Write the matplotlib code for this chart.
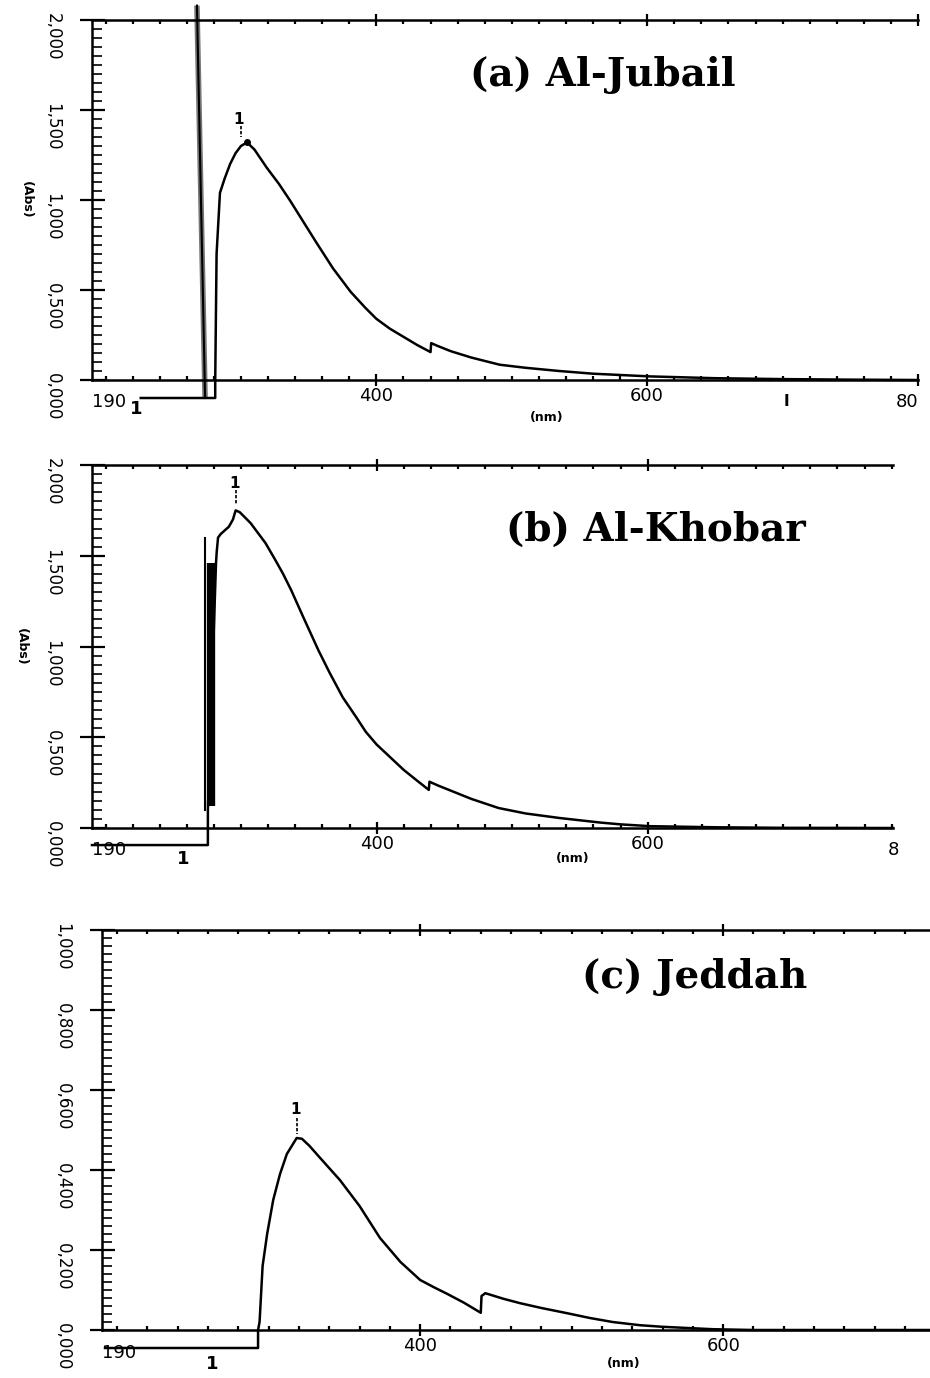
import matplotlib
matplotlib.use('Agg')
import matplotlib.pyplot as plt
from matplotlib.ticker import MultipleLocator, FixedLocator

# panel (a) Al-Jubail: main trace (starts with the off-scale step below the axis)
wl_a = [226, 281, 281, 282, 284.5, 288, 292, 296, 300, 304.5, 310, 319, 328, 336, 346, 356,
        368, 381, 392, 400, 410, 420, 430, 440, 440.5, 445, 455, 470, 491, 510, 535, 560,
        602, 650, 700, 750, 800]
abs_a = [-0.1, -0.1, 0.0, 0.70, 1.04, 1.12, 1.20, 1.26, 1.30, 1.32, 1.28, 1.18, 1.09, 1.0,
         0.88, 0.76, 0.62, 0.49, 0.40, 0.34, 0.285, 0.24, 0.195, 0.155, 0.205, 0.19, 0.16,
         0.125, 0.085, 0.068, 0.05, 0.035, 0.02, 0.01, 0.005, 0.002, 0.0]
spike_wl_a = [267.5, 273.5]
spike_abs_a = [2.08, -0.1]

# panel (b) Al-Khobar
wl_b = [190, 275.5, 275.5, 281.5, 282, 283, 285, 288, 291, 294, 296, 299, 303, 307, 312,
        318, 325, 331, 337, 346, 357, 365, 375, 385, 392, 400, 410, 420, 430, 438.5, 439,
        445, 455, 470, 490, 510, 535, 565, 580, 602, 650, 700, 781]
abs_b = [-0.094, -0.094, 0.1, 1.46, 1.52, 1.60, 1.62, 1.64, 1.66, 1.70, 1.75, 1.74, 1.71,
         1.68, 1.63, 1.57, 1.48, 1.40, 1.31, 1.16, 0.98, 0.86, 0.72, 0.61, 0.53, 0.46, 0.39,
         0.32, 0.26, 0.21, 0.255, 0.235, 0.205, 0.16, 0.11, 0.08, 0.055, 0.03, 0.02, 0.01,
         0.004, 0.001, 0.0]
spike_wl_b = [273.2, 273.2]
spike_abs_b = [1.60, 0.1]
band_wl_b = [277.8, 277.8]
band_abs_b = [0.12, 1.46]

# panel (c) Jeddah
wl_c = [192, 293, 293, 294, 296, 299, 303, 307.5, 312, 318.5, 322, 327, 334, 347, 360,
        373.5, 387, 400, 409, 418, 429, 440, 440.5, 443, 455, 466, 480, 497, 512, 527, 545,
        560, 593, 620, 736.5]
abs_c = [-0.045, -0.045, 0, 0.02, 0.16, 0.24, 0.325, 0.39, 0.44, 0.48, 0.478, 0.46, 0.43,
         0.375, 0.31, 0.23, 0.17, 0.125, 0.107, 0.09, 0.068, 0.043, 0.085, 0.092, 0.078,
         0.067, 0.055, 0.042, 0.03, 0.02, 0.012, 0.008, 0.002, 0.0, 0.0]

titles = ['(a) Al-Jubail', '(b) Al-Khobar', '(c) Jeddah']
yticks_ab = [0, 0.5, 1.0, 1.5, 2.0]
yticks_c = [0, 0.2, 0.4, 0.6, 0.8, 1.0]
xticks_a = [400, 600, 800]
xticks = [400, 600]

W, H = 930, 1378


def box(left, top, right, bottom):
    return [left / W, 1 - bottom / H, (right - left) / W, (bottom - top) / H]


def style(ax, xmax, ymax, yt, yminor, xt):
    ax.set_xlim(190, xmax)
    ax.set_ylim(0, ymax)
    ax.spines['right'].set_visible(False)
    for s in ['left', 'bottom', 'top']:
        ax.spines[s].set_linewidth(1.8)
    ax.xaxis.set_major_locator(FixedLocator(xt))
    ax.xaxis.set_minor_locator(MultipleLocator(20))
    # the last label on the right edge is cut in the scan, only its first digits show
    ax.set_xticklabels([str(t) if t < 700 else '' for t in xt])
    ax.set_yticks(yt)
    ax.set_yticklabels([('%.3f' % v).replace('.', ',') for v in yt])
    ax.yaxis.set_minor_locator(MultipleLocator(yminor))
    ax.tick_params(axis='x', which='major', direction='inout', length=8, width=1.6,
                   top=True, pad=1, labelsize=13)
    ax.tick_params(axis='x', which='minor', direction='in', length=3, width=1.6, top=True)
    ax.tick_params(axis='y', which='major', direction='inout', length=18, width=1.6,
                   labelrotation=270, pad=13, labelsize=12)
    ax.tick_params(axis='y', which='minor', direction='in', length=7, width=1.2)
    ax.text(190, -0.035 * ymax, '190', ha='left', va='top', fontsize=13,
            transform=ax.transData)


fig = plt.figure(figsize=(W / 100, H / 100), dpi=100)

# ---- (a)
ax1 = fig.add_axes(box(92, 20, 918, 380))
style(ax1, 800, 2.0, yticks_ab, 0.05, xticks_a)
ax1.text(800, -0.035 * 2.0, '80', ha='right', va='top', fontsize=13)
ax1.plot(spike_wl_a, spike_abs_a, color='#777777', lw=4, clip_on=False, solid_capstyle='butt')
ax1.plot(spike_wl_a, spike_abs_a, color='black', lw=1.5, clip_on=False)
ax1.plot(wl_a, abs_a, color='black', lw=1.8, clip_on=False)
ax1.plot([304.5], [1.32], 'o', color='black', ms=4)
ax1.text(298, 1.45, '1', ha='center', va='center', fontsize=11, fontweight='bold')
ax1.plot([300, 300], [1.41, 1.35], color='black', lw=1.2, ls=(0, (2, 1)))
ax1.text(223, -0.16, '1', ha='center', va='center', fontsize=13, fontweight='bold')
ax1.text(703, -0.12, 'I', ha='center', va='center', fontsize=11, fontweight='bold')
ax1.text(0.55, -0.105, '(nm)', transform=ax1.transAxes, ha='center', va='center',
         fontsize=9, fontweight='bold')
ax1.text(-0.08, 0.5, '(Abs)', transform=ax1.transAxes, ha='center', va='center',
         fontsize=9, fontweight='bold', rotation=270)

# ---- (b)
ax2 = fig.add_axes(box(92, 465, 893, 828))
style(ax2, 781, 2.0, yticks_ab, 0.05, xticks)
ax2.plot(spike_wl_b, spike_abs_b, color='black', lw=1.5, clip_on=False)
ax2.plot(band_wl_b, band_abs_b, color='black', lw=6, solid_capstyle='butt')
ax2.plot(wl_b, abs_b, color='black', lw=1.8, clip_on=False)
ax2.text(295.5, 1.90, '1', ha='center', va='center', fontsize=11, fontweight='bold')
ax2.plot([296.5, 296.5], [1.86, 1.78], color='black', lw=1.2, ls=(0, (2, 1)))
ax2.text(257, -0.17, '1', ha='center', va='center', fontsize=13, fontweight='bold')
ax2.text(781, -0.035 * 2.0, '8', ha='center', va='top', fontsize=13)
ax2.text(0.6, -0.085, '(nm)', transform=ax2.transAxes, ha='center', va='center',
         fontsize=9, fontweight='bold')
ax2.text(-0.088, 0.5, '(Abs)', transform=ax2.transAxes, ha='center', va='center',
         fontsize=9, fontweight='bold', rotation=270)

# ---- (c)
ax3 = fig.add_axes(box(102, 930, 930, 1330))
style(ax3, 736.5, 1.0, yticks_c, 0.02, xticks)
ax3.plot(wl_c, abs_c, color='black', lw=1.8, clip_on=False)
ax3.text(318, 0.55, '1', ha='center', va='center', fontsize=11, fontweight='bold')
ax3.plot([319, 319], [0.53, 0.49], color='black', lw=1.2, ls=(0, (2, 1)))
ax3.text(263, -0.085, '1', ha='center', va='center', fontsize=13, fontweight='bold')
ax3.text(0.63, -0.085, '(nm)', transform=ax3.transAxes, ha='center', va='center',
         fontsize=9, fontweight='bold')

# titles
for t, (cx, cy) in zip(titles, [(603, 75), (656, 530), (695, 977)]):
    fig.text(cx / W, 1 - cy / H, t, ha='center', va='center', fontsize=28,
             fontweight='bold', family='DejaVu Serif')

fig.savefig('out.png', dpi=100)
